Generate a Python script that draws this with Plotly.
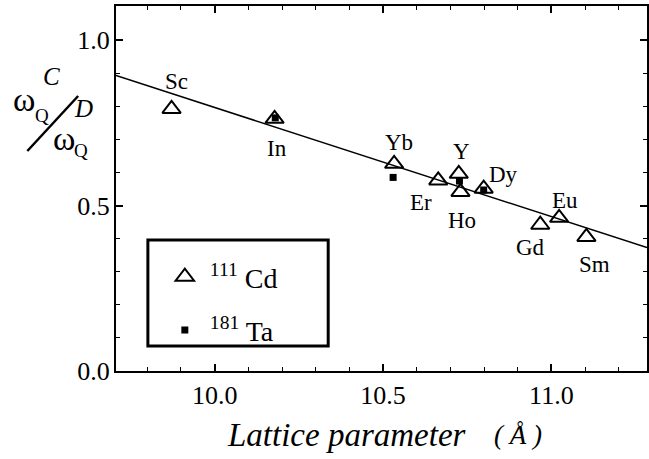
import plotly.graph_objects as go

# ---- data ----
cd_elements = ["Sc", "In", "Yb", "Er", "Y", "Ho", "Dy", "Gd", "Eu", "Sm"]
cd_lattice = [9.872, 10.178, 10.533, 10.664, 10.725, 10.730, 10.799, 10.967, 11.023, 11.104]
cd_ratio = [0.792, 0.762, 0.626, 0.576, 0.596, 0.541, 0.551, 0.442, 0.463, 0.405]

ta_lattice = [10.180, 10.530, 10.727, 10.799]
ta_ratio = [0.765, 0.585, 0.574, 0.547]

fit_lattice = [9.707, 11.284]
fit_ratio = [0.893, 0.373]

x_ticks = [10.0, 10.5, 11.0]
x_ticklabels = ["10.0", "10.5", "11.0"]
y_ticks = [0.0, 0.5, 1.0]
y_ticklabels = ["0.0", "0.5", "1.0"]

# label offsets (pixels) relative to each Cd point
label_dx = [5, 2, 5, -17, 3, 2, 20, -10, 6, 8]
label_dy = [27, -30, 21, -22, 22, -29, 14, -23, 17, -28]

SERIF = "Liberation Serif, Times New Roman, serif"

fig = go.Figure()

fig.add_trace(go.Scatter(
    x=fit_lattice, y=fit_ratio, mode="lines",
    line=dict(color="black", width=1.5), showlegend=False, hoverinfo="skip"))

fig.add_trace(go.Scatter(
    x=cd_lattice, y=cd_ratio, mode="markers", name="<sup>111</sup> Cd",
    legendgroup="cd",
    marker=dict(symbol="triangle-up-open", size=16, color="black",
                line=dict(color="black", width=2))))

fig.add_trace(go.Scatter(
    x=ta_lattice, y=ta_ratio, mode="markers", name="<sup>181</sup> Ta",
    legendgroup="ta",
    marker=dict(symbol="square", size=7, color="black")))

annotations = []
for el, x, y, dx, dy in zip(cd_elements, cd_lattice, cd_ratio, label_dx, label_dy):
    annotations.append(dict(x=x, y=y, xref="x", yref="y", text=el, showarrow=False,
                            xshift=dx, yshift=dy,
                            font=dict(family=SERIF, size=23, color="black")))

L, B, W, H = 116, 371, 533, 365  # plot area in pixels (for label placement helpers)


def pann(text, px, py, size):
    return dict(xref="paper", yref="paper", x=0, y=0, xshift=px - L, yshift=B - py,
                xanchor="center", yanchor="middle",
                text=text, showarrow=False,
                font=dict(family=SERIF, size=size, color="black"))


# y-axis title built as a slanted fraction
annotations += [
    pann("ω", 24, 99, 34),
    pann("Q", 42, 115, 19),
    pann("<i>C</i>", 51, 76, 25),
    pann("ω", 64, 138, 34),
    pann("Q", 81, 150, 19),
    pann("<i>D</i>", 83, 108, 25),
    pann("<i>Lattice parameter</i>", 346, 435, 33),
    pann("<i>( Å )</i>", 518, 435, 27),
]

fig.update_layout(
    width=649, height=459,
    margin=dict(l=L, r=0, t=6, b=459 - B),
    paper_bgcolor="white", plot_bgcolor="white",
    showlegend=True,
    legend=dict(x=(160 - L) / W, y=(B - 252) / H, xanchor="left", yanchor="top",
                bgcolor="rgba(0,0,0,0)", borderwidth=0,
                traceorder="grouped", tracegroupgap=14,
                font=dict(family=SERIF, size=28, color="black"),
                itemwidth=40),
    annotations=annotations,
    shapes=[
        dict(type="rect", xref="paper", yref="paper",
             x0=(148 - L) / W, x1=(329 - L) / W,
             y0=(B - 346) / H, y1=(B - 240) / H,
             line=dict(color="black", width=3)),
        dict(type="line", xref="paper", yref="paper",
             x0=(27 - L) / W, y0=(B - 151) / H, x1=(78 - L) / W, y1=(B - 96) / H,
             line=dict(color="black", width=2.5)),
    ],
    xaxis=dict(range=[9.707, 11.284], tickvals=x_ticks, ticktext=x_ticklabels,
               ticks="inside", ticklen=7, tickwidth=1.5, tickcolor="black",
               minor=dict(dtick=0.1, ticks="inside", ticklen=4, tickwidth=1.2, tickcolor="black"),
               showline=True, linecolor="black", linewidth=2, mirror="ticks",
               showgrid=False, zeroline=False,
               tickfont=dict(family=SERIF, size=26, color="black")),
    yaxis=dict(range=[0, 1.103], tickvals=y_ticks, ticktext=y_ticklabels,
               ticks="inside", ticklen=7, tickwidth=1.5, tickcolor="black",
               minor=dict(dtick=0.1, ticks="inside", ticklen=4, tickwidth=1.2, tickcolor="black"),
               showline=True, linecolor="black", linewidth=2, mirror="ticks",
               showgrid=False, zeroline=False, ticklabelstandoff=-1,
               tickfont=dict(family=SERIF, size=26, color="black")),
)

fig.write_html("out.html")
